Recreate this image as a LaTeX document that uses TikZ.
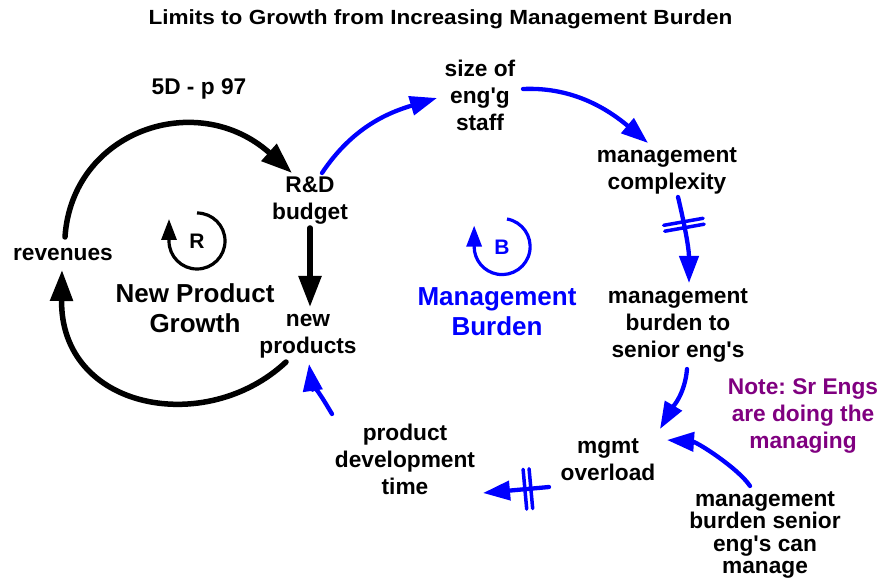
\documentclass[tikz,border=0pt]{standalone}
\usepackage{fontspec}
\newfontfamily\arial{Liberation Sans}
\usetikzlibrary{arrows.meta}
\definecolor{cldblue}{RGB}{0,0,255}
\definecolor{notepurple}{RGB}{128,0,128}
\frenchspacing
\tikzset{
  lbl/.style={align=center, inner sep=0pt, font=\arial\bfseries\fontsize{22.7}{27}\selectfont},
  big/.style={align=center, inner sep=0pt, font=\arial\bfseries\fontsize{26}{30}\selectfont},
  loopletter/.style={inner sep=0pt, font=\arial\bfseries\fontsize{21}{24}\selectfont},
  blk/.style={line width=5.5pt, line cap=round, -{Triangle[length=31pt,width=22pt]}},
  blu/.style={draw=cldblue, line width=4.3pt, line cap=round, -{Triangle[length=27pt,width=19pt]}},
  loopar/.style={line width=3.2pt, -{Triangle[length=21pt,width=15pt]}},
  delay/.pic={\draw[-, draw=cldblue, line width=3.5pt, line cap=round] (-3,-20) -- (-3,20) (3,-20) -- (3,20);}
}
\begin{document}
\begin{tikzpicture}[x=1pt,y=1pt]
\useasboundingbox (0,0) rectangle (882,581);
% nodes
\node[lbl] (title) at (440.5,562) {\fontsize{20.5}{23}\selectfont\scalebox{1.1}[1]{Limits to Growth from Increasing Management Burden}};
\node[lbl] (p97) at (199,492) {5D - p 97};
\node[lbl] (staff) at (480,486) {size of\\eng'g\\staff};
\node[lbl] (cplx) at (667,410.5) {management\\complexity};
\node[lbl] (rd) at (310,380) {R\&D\\budget};
\node[lbl] (rev) at (63,326) {revenues};
\node[lbl] (np) at (308,245) {new\\products};
\node[big] (npg) at (195,273) {New Product\\Growth};
\node[loopletter] (R) at (197,340) {R};
\node[big, text=cldblue] (mb) at (497,269.5) {Management\\Burden};
\node[loopletter, text=cldblue] (B) at (502,334) {B};
\node[lbl] (burden) at (678,255) {management\\burden to\\senior eng's};
\node[lbl, text=notepurple] (note) at (803,165) {Note: Sr Engs\\are doing the\\managing};
\node[lbl] (over) at (608,121) {mgmt\\overload};
\node[lbl] (pdt) at (405,121.5) {product\\development\\time};
\node[lbl, font=\arial\bfseries\fontsize{22.7}{22.5}\selectfont] (cap) at (765,46) {management\\burden senior\\eng's can\\manage};
% black loop
\draw[blk] ([shift={(2,18)}]rev.center) .. controls +(7,106) and +(-95,85) .. ([shift={(-18,28)}]rd.center);
\draw[blk] ([shift={(-22,-26)}]np.center) .. controls +(-80,-75) and +(-2,-140) .. ([shift={(-1,-15)}]rev.center);
\draw[blk] ([shift={(0,-27)}]rd.center) -- ([shift={(2,29)}]np.center);
% blue loop
\draw[blu] ([shift={(12,28)}]rd.center) .. controls +(30,45) and +(-50,-15) .. ([shift={(-43,-3)}]staff.center);
\draw[blu] ([shift={(43,6)}]staff.center) .. controls +(45,2) and +(-45,38) .. ([shift={(-19,27.5)}]cplx.center);
\draw[blu] ([shift={(11,-26.5)}]cplx.center) .. controls +(6,-25) and +(0,35) .. ([shift={(11,43)}]burden.center) pic[pos=0.36,sloped]{delay};
\draw[blu] ([shift={(9,-43)}]burden.center) .. controls +(-2,-25) and +(12.5,21.6) .. ([shift={(52,31)}]over.center);
\draw[blu] ([shift={(-15,49)}]cap.center) .. controls +(-12,18) and +(30,-2) .. ([shift={(59,20)}]over.center);
\draw[blu] ([shift={(-59,-27)}]over.center) -- ([shift={(78,-33.5)}]pdt.center) pic[pos=0.32,sloped]{delay};
\draw[blu] ([shift={(-73,45.5)}]pdt.center) .. controls +(-6,10) and +(2,-14) .. ([shift={(1,-28)}]np.center);
% loop symbols
\draw[loopar] ([shift={(0,28)}]R.center) arc[start angle=90, end angle=-180, radius=28] -- ++(0,22);
\draw[loopar, cldblue] ([shift={(5,28)}]B.center) arc[start angle=80, end angle=-180, radius=28] -- ++(0,21);
\end{tikzpicture}
\end{document}
